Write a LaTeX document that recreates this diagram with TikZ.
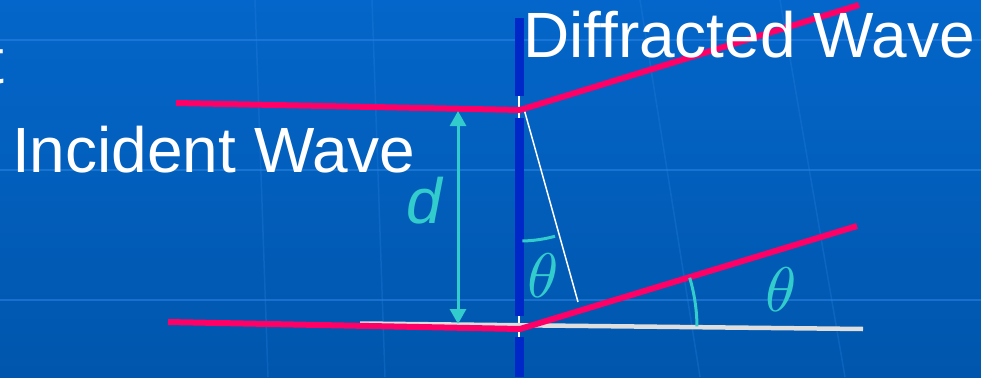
\documentclass[tikz,border=0pt]{standalone}
\usepackage{fontspec}
\setmainfont{Liberation Sans}
\usetikzlibrary{arrows.meta}
\definecolor{bgtop}{RGB}{4,102,202}
\definecolor{bgbot}{RGB}{0,86,172}
\definecolor{gridc}{RGB}{40,130,225}
\definecolor{wavec}{RGB}{255,0,102}
\definecolor{tealc}{RGB}{51,204,204}
\definecolor{barc}{RGB}{0,40,200}
\definecolor{grayc}{RGB}{222,222,222}
\tikzset{
  gridline/.style={draw=gridc, line width=1.5pt, opacity=0.6},
  barrier/.style={draw=barc, line width=9pt},
  slitmark/.style={draw=white, line width=1.5pt},
  wave/.style={draw=wavec, line width=6pt, line join=round},
  baseline/.style={draw=grayc, line width=4.5pt},
  pathline/.style={draw=white, line width=1.5pt},
  dimarrow/.style={draw=tealc, line width=3pt, {Triangle[width=16pt,length=15pt]}-{Triangle[width=16pt,length=15pt]}},
  anglearc/.style={draw=tealc, line width=3pt},
  bigtext/.style={text=white, inner sep=0pt, font=\fontsize{64}{64}\selectfont},
  mathlabel/.style={text=tealc, inner sep=0pt}
}
\begin{document}
\begin{tikzpicture}[x=1pt,y=-1pt]
\useasboundingbox (0,0) rectangle (981,377);
\shade[top color=bgtop, bottom color=bgbot] (0,0) rectangle (981,377);
% faint background grid
\draw[gridline] (0,40) -- (981,40);
\draw[gridline] (0,170) -- (981,170);
\draw[gridline] (0,300) -- (981,300);
\draw[gridline, opacity=0.3] (255,0) -- (268,377);
\draw[gridline, opacity=0.3] (372,0) -- (385,377);
\draw[gridline, opacity=0.3] (640,0) -- (700,377);
\draw[gridline, opacity=0.3] (780,0) -- (845,377);
% coordinates
\coordinate (s1) at (520,110);
\coordinate (s2) at (520,329);
\coordinate (i1) at (176,103);
\coordinate (d1) at (859,5);
\coordinate (i2) at (168,322);
\coordinate (d2) at (857,226);
\coordinate (g1) at (360,323.5);
\coordinate (g2) at (863,329);
\coordinate (p0) at (524,109);
\coordinate (p1) at (578,302);
\coordinate (dt) at (458,111);
\coordinate (db) at (458,324);
% barrier with slits
\draw[barrier] (519,18) -- (519,96);
\draw[barrier] (519,118) -- (519,316);
\draw[barrier] (519,337) -- (519,377);
\draw[slitmark] (519,96) -- (519,118);
\draw[slitmark] (519,316) -- (519,337);
% reference lines
\draw[baseline] (g1) -- (g2);
\draw[pathline] (p0) -- (p1);
% waves
\draw[wave] (i1) -- (s1) -- (d1);
\draw[wave] (i2) -- (s2) -- (d2);
% d dimension
\draw[dimarrow] (dt) -- (db);
% angle arcs
\draw[anglearc] plot[domain=1:15.5, samples=20] ({520+131*sin(\x)},{110+131*cos(\x)});
\draw[anglearc] plot[domain=0.5:16.5, samples=20] ({520+177*cos(\x)},{328-177*sin(\x)});
% labels
\node[bigtext, anchor=base west] (inc) at (12,172) {Incident Wave};
\node[bigtext, anchor=base west] (dif) at (523,58) {Diffracted Wave};
\node[bigtext, anchor=base east] (frag) at (4,84) {t};
\node[bigtext, text=tealc, anchor=base west] (dlab) at (406,223) {\itshape d};
\node[mathlabel] (th1) at (543,276) {\scalebox{6.3}{$\theta$}};
\node[mathlabel] (th2) at (781,290) {\scalebox{6.3}{$\theta$}};
\end{tikzpicture}
\end{document}
